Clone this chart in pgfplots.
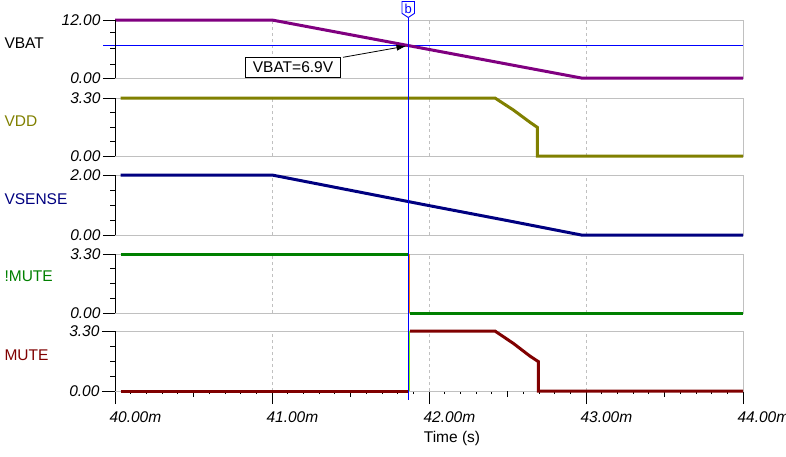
\documentclass[border=0pt]{standalone}
\usepackage{pgfplots}
\pgfplotsset{compat=1.18}
\usepackage{fontspec}
\setmainfont{Liberation Sans}
\usetikzlibrary{arrows.meta}
\definecolor{frame}{RGB}{192,192,192}
\definecolor{cvbat}{RGB}{128,0,128}
\definecolor{cvdd}{RGB}{128,128,0}
\definecolor{cvsense}{RGB}{0,0,128}
\definecolor{cimute}{RGB}{0,128,0}
\definecolor{cmute}{RGB}{128,0,0}
\definecolor{cedgeA}{RGB}{255,128,0}
\definecolor{cedgeB}{RGB}{128,255,0}
\definecolor{ccursor}{RGB}{0,0,255}
\newcommand{\fs}{\fontsize{15.5}{18}\selectfont}
\pgfplotsset{
  panel/.style={
    scale only axis, width=628pt,
    xmin=40, xmax=44,
    axis line style={draw=frame, line width=0.8pt},
    tick align=outside,
    ytick pos=left, xtick pos=bottom,
    xmajorgrids,
    major grid style={draw=frame, line width=0.8pt, dash pattern=on 3pt off 3pt},
    major tick length=12pt, minor tick length=5pt,
    tick style={black, line width=0.8pt},
    tick label style={font=\fs\itshape, black},
    yticklabel style={xshift=1pt},
    clip=false,
    every axis plot/.append style={line width=3pt},
    execute at end axis={\draw[black, line width=0.8pt] (rel axis cs:0,0) -- (rel axis cs:0,1);},
  },
  upper/.style={
    xtick={41,42,43}, xmajorticks=false, xticklabels={},
  },
}
\begin{document}
\begin{tikzpicture}[font=\fs]
\useasboundingbox (0pt,0pt) rectangle (786pt,-456pt);

% VBAT
\begin{axis}[panel, upper, at={(115pt,-78pt)}, anchor=south west, height=58pt,
  ymin=0, ymax=12, ytick={0,12}, yticklabels={0.00,12.00},
  minor ytick={2.83,6.14,9.45}]
\draw[ccursor, line width=1.2pt] (axis cs:39.924,6.7) -- (axis cs:44,6.7);
\addplot[cvbat] coordinates {(40.0,12) (41.0,12) (42.97,0) (44,0)};
\end{axis}

% VDD
\begin{axis}[panel, upper, at={(115pt,-156pt)}, anchor=south west, height=58pt,
  ymin=0, ymax=3.3, ytick={0,3.3}, yticklabels={0.00,3.30},
  minor ytick={0.825,1.65,2.475}]
\addplot[cvdd] coordinates {(40.036,3.3) (42.42,3.3) (42.537,2.62) (42.643,1.92) (42.69,1.63) (42.69,0) (44,0)};
\end{axis}

% VSENSE
\begin{axis}[panel, upper, at={(115pt,-235pt)}, anchor=south west, height=60pt,
  ymin=0, ymax=2, ytick={0,2}, yticklabels={0.00,2.00},
  minor ytick={0.5,1,1.5}]
\addplot[cvsense] coordinates {(40.036,2) (41.0,2) (41.5,1.49) (42.0,0.98) (42.5,0.48) (42.97,0) (44,0)};
\end{axis}

% !MUTE
\begin{axis}[panel, upper, at={(115pt,-313pt)}, anchor=south west, height=59pt,
  ymin=0, ymax=3.3, ytick={0,3.3}, yticklabels={0.00,3.30},
  minor ytick={0.825,1.65,2.475}]
\addplot[cimute] coordinates {(40.036,3.3) (41.872,3.3)};
\addplot[cimute] coordinates {(41.878,0) (44,0)};
\addplot[cedgeA, line width=1.8pt] coordinates {(41.875,3.3) (41.875,0)};
\end{axis}

% MUTE
\begin{axis}[panel, at={(115pt,-391pt)}, anchor=south west, height=60pt,
  ymin=0, ymax=3.3, ytick={0,3.3}, yticklabels={0.00,3.30},
  extra y ticks={0.825,1.65,2.475}, extra y tick labels={},
  extra y tick style={major tick length=5pt, grid=none},
  xtick={40,41,42,43,44},
  xticklabels={40.00m,41.00m,42.00m,43.00m,44.00m},
  xticklabel style={anchor=north west, xshift=-9pt, yshift=-4pt},
  major tick length=13pt,
  minor x tick num=9, minor tick length=3pt,
  extra x ticks={40.5,41.5,42.5,43.5}, extra x tick labels={},
  extra x tick style={major tick length=6pt, grid=none}]
\addplot[cmute] coordinates {(40.036,0) (41.872,0)};
\addplot[cmute] coordinates {(41.878,3.3) (42.42,3.3) (42.537,2.62) (42.643,1.92) (42.696,1.62) (42.696,0) (44,0)};
\addplot[cedgeB, line width=1.8pt] coordinates {(41.875,0) (41.875,3.3)};
\end{axis}

% signal names
\node[anchor=west, text=black] at (1pt,-43pt) {VBAT};
\node[anchor=west, text=cvdd] at (1pt,-121pt) {VDD};
\node[anchor=west, text=cvsense] at (1pt,-199.5pt) {VSENSE};
\node[anchor=west, text=cimute] at (1pt,-276.5pt) {!MUTE};
\node[anchor=west, text=cmute] at (1pt,-355.5pt) {MUTE};
\node at (452pt,-438pt) {Time (s)};

% annotation
\draw[black, line width=0.8pt, fill=white] (245.5pt,-57pt) rectangle (340.5pt,-77pt);
\node at (293pt,-67pt) {VBAT=6.9V};
\draw[black, line width=0.8pt, -{Latex[length=10pt,width=6pt]}] (343pt,-57.3pt) -- (406.5pt,-46pt);

% cursor
\draw[ccursor, line width=1.2pt] (408.3pt,-17.5pt) -- (408.3pt,-400pt);
\draw[ccursor, line width=0.9pt, fill=white] (402pt,-1.5pt) -- (414.5pt,-1.5pt) -- (414.5pt,-13.3pt) -- (408.3pt,-17.5pt) -- (402pt,-13.3pt) -- cycle;
\node[text=ccursor, inner sep=0pt] at (408.3pt,-8.5pt) {\fontsize{13}{15}\selectfont b};
\end{tikzpicture}
\end{document}
